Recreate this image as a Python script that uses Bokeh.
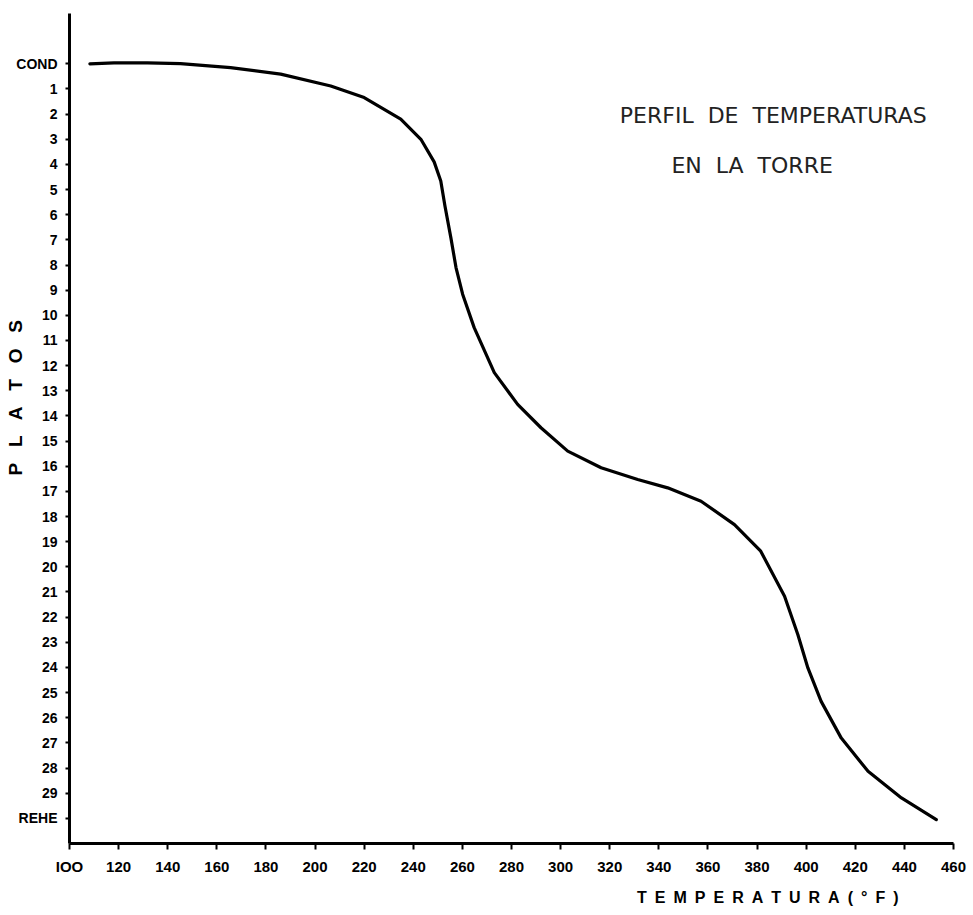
from bokeh.plotting import figure
from bokeh.models import Range1d, FixedTicker, Label, Title
from bokeh.embed import file_html
from bokeh.resources import INLINE

# Data
temperature_f = [108.3, 118.1, 131.7, 145.2, 165.6, 186, 206.4, 220, 234.9, 243.1,
                 248.5, 251.2, 252.9, 255.3, 257.4, 260.1, 264.8, 273.0, 282.5, 292.0,
                 302.9, 316.5, 331.4, 343.6, 357.2, 370.8, 381.5, 391.2, 396.6, 400.7,
                 406.1, 414.3, 425.2, 438.8, 453]
plate = [0.0, -0.04, -0.04, -0.01, 0.15, 0.41, 0.88, 1.34, 2.2, 3.0,
         3.9, 4.66, 5.65, 6.91, 8.1, 9.16, 10.49, 12.28, 13.54, 14.47,
         15.40, 16.06, 16.53, 16.86, 17.39, 18.32, 19.38, 21.17, 22.69, 24.02,
         25.35, 26.81, 28.13, 29.19, 30.05]

x_ticks = list(range(100, 461, 20))
y_ticks = list(range(0, 31))
y_tick_labels = {0: "COND", 30: "REHE"}
x_tick_labels = {100: "IOO"}

NB = "\u00a0"
EN = "\u2002"
title_line1 = f"PERFIL{NB} DE{NB} TEMPERATURAS"
title_line2 = f"EN{NB} LA{NB} TORRE"
x_title = EN.join("TEMPERATURA") + EN + EN.join("(°F)")
y_title = (NB * 2 + " ").join("PLATOS")

p = figure(width=973, height=915, output_backend="svg", toolbar_location=None,
           x_range=Range1d(100, 460), y_range=Range1d(31, -2),
           min_border_left=69, min_border_right=20, min_border_top=13,
           min_border_bottom=72)
p.outline_line_color = None
p.xgrid.visible = False
p.ygrid.visible = False
p.background_fill_color = "white"
p.border_fill_color = "white"

p.line(temperature_f, plate, line_color="black", line_width=3.2, line_cap="round",
       line_join="round")

for ax in (p.xaxis[0], p.yaxis[0]):
    ax.axis_line_width = 3
    ax.axis_line_color = "black"
    ax.major_tick_line_width = 2
    ax.major_tick_line_color = "black"
    ax.major_tick_in = 0
    ax.minor_tick_line_color = None
    ax.major_label_text_font = "Liberation Sans"
    ax.major_label_text_font_style = "bold"
    ax.major_label_text_color = "black"

p.xaxis.ticker = FixedTicker(ticks=x_ticks)
p.xaxis.major_tick_out = 6
p.xaxis.major_label_text_font_size = "15px"
p.xaxis.major_label_standoff = 8
p.xaxis.major_label_overrides = {k: v for k, v in x_tick_labels.items()}

p.yaxis.ticker = FixedTicker(ticks=y_ticks)
p.yaxis.major_tick_out = 4
p.yaxis.major_label_text_font_size = "14px"
p.yaxis.major_label_standoff = 8
p.yaxis.major_label_overrides = {k: v for k, v in y_tick_labels.items()}

p.add_layout(Title(text=x_title, align="right", offset=55, standoff=18,
                   text_font="Liberation Sans", text_font_style="bold",
                   text_font_size="16px", text_color="black"), "below")
p.add_layout(Title(text=y_title, align="left", offset=368, standoff=-24,
                   text_font="Liberation Sans", text_font_style="bold",
                   text_font_size="19px", text_color="black"), "left")

p.add_layout(Label(x=386.6, y=2.07, text=title_line1, text_align="center",
                   text_baseline="middle", text_font="DejaVu Sans",
                   text_font_size="22px", text_color="#222222"))
p.add_layout(Label(x=378, y=4.06, text=title_line2, text_align="center",
                   text_baseline="middle", text_font="DejaVu Sans",
                   text_font_size="22px", text_color="#222222"))

open("out.html", "w").write(file_html(p, INLINE))
